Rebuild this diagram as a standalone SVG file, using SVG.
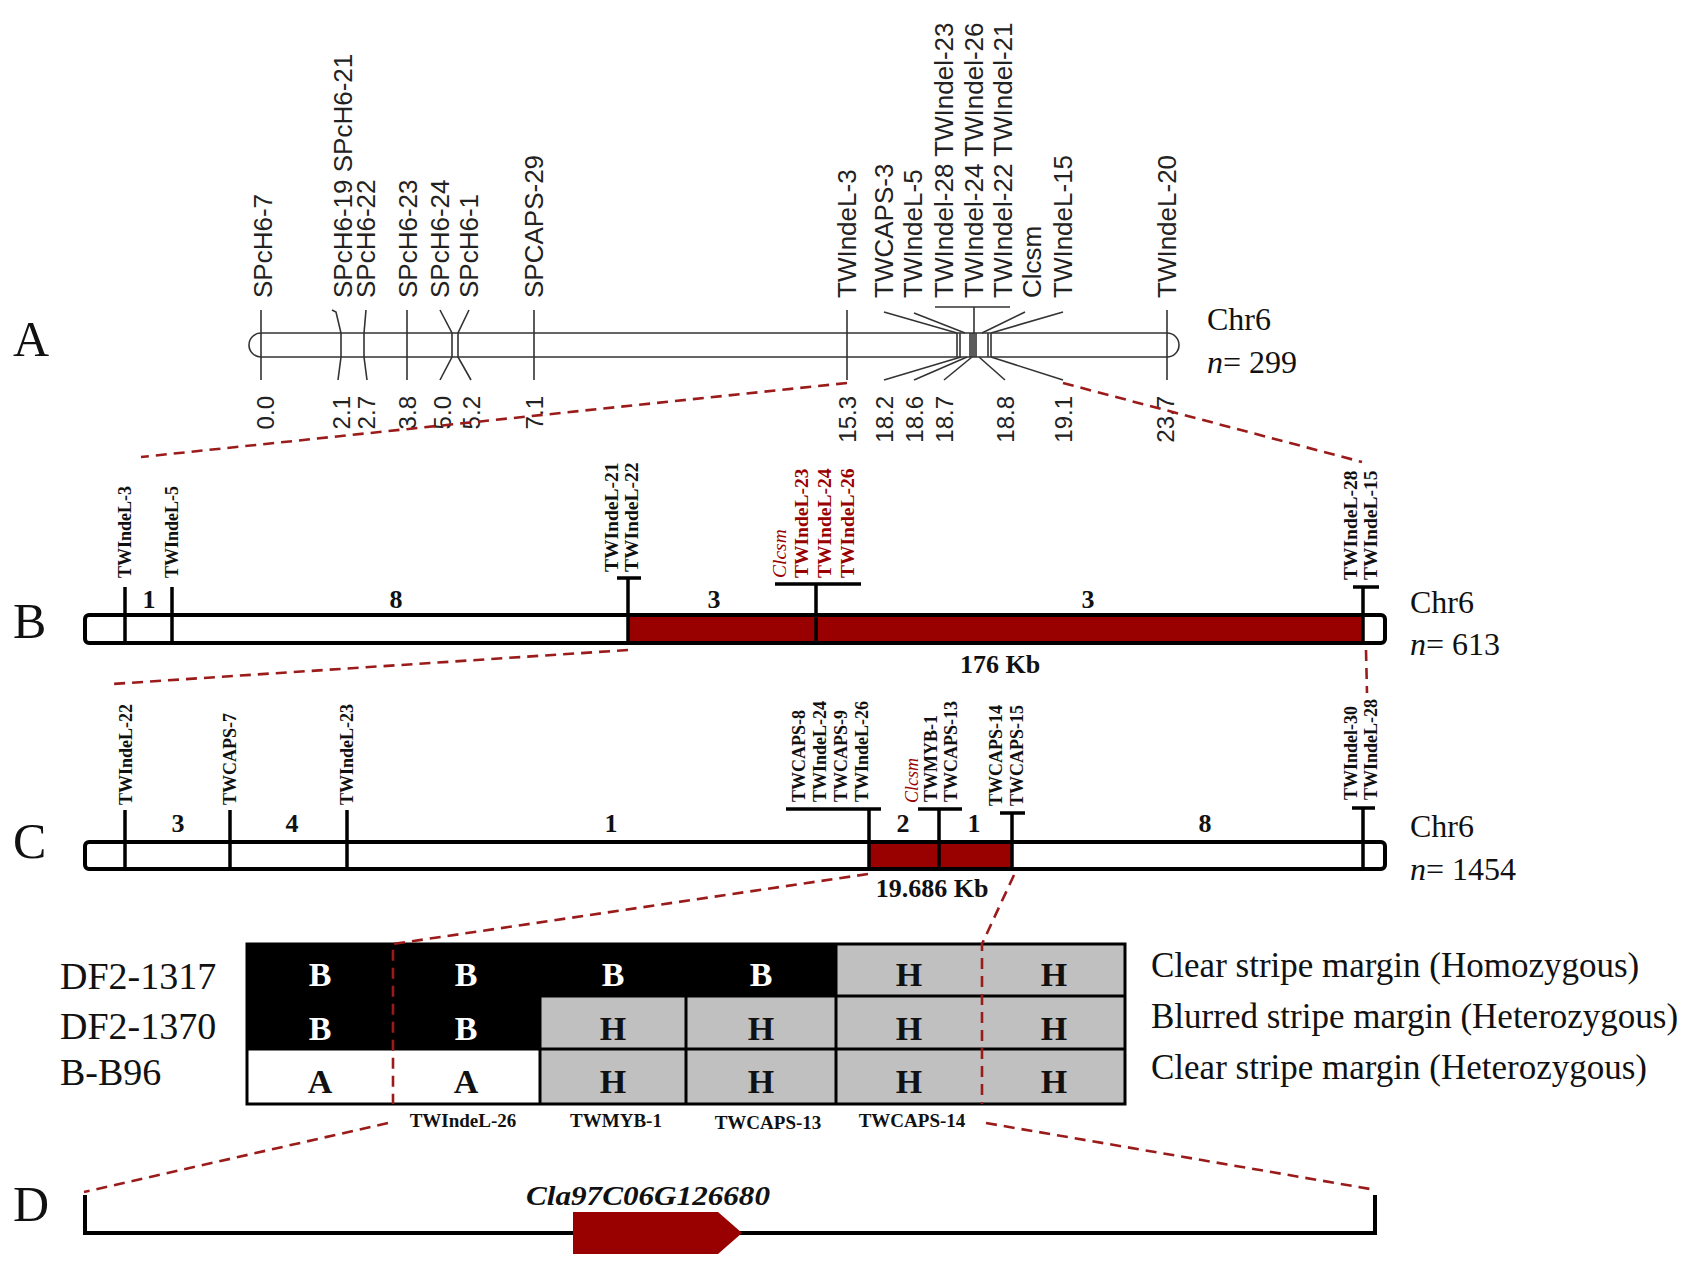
<svg xmlns="http://www.w3.org/2000/svg" width="1701" height="1269" viewBox="0 0 1701 1269">
<style>
.pl{font-family:"Liberation Serif","Times New Roman",serif;font-size:50px;fill:#111}
.ma{font-family:"Liberation Sans",Arial,sans-serif;font-size:26px;fill:#222}
.na{font-family:"Liberation Sans",Arial,sans-serif;font-size:24px;fill:#222;text-anchor:end}
.ch{font-family:"Liberation Serif","Times New Roman",serif;font-size:32px;fill:#111}
.mk{font-family:"Liberation Serif","Times New Roman",serif;font-size:18px;font-weight:bold;fill:#111}
.mb{font-size:19.5px}
.mr{fill:#990000}
.it{font-weight:normal;font-style:italic}
.num{font-family:"Liberation Serif","Times New Roman",serif;font-size:26px;font-weight:bold;fill:#111;text-anchor:middle}
.ta{stroke:#333;stroke-width:1.6;fill:none}
.tk{stroke:#000;stroke-width:3.5;fill:none}
.dash{stroke:#9b1b1b;stroke-width:2.6;stroke-dasharray:11 7;fill:none}
.cell{font-family:"Liberation Serif","Times New Roman",serif;font-size:34px;font-weight:bold;text-anchor:middle}
.row{font-family:"Liberation Serif","Times New Roman",serif;font-size:38px;fill:#111}
.desc{font-family:"Liberation Serif","Times New Roman",serif;font-size:35px;fill:#111}
.tl{font-family:"Liberation Serif","Times New Roman",serif;font-size:19px;font-weight:bold;fill:#111;text-anchor:middle}
</style>

<!-- Panel A -->
<g id="panel-a">
  <text class="pl" x="13" y="356">A</text>
  <path class="ta" d="M261,333 H1167 A12,12 0 0 1 1167,357 H261 A12,12 0 0 1 261,333 Z" fill="#fff"/>
  <g id="a-ticks" class="ta">
    <path d="M261,310 V380"/>
    <path d="M332,310 L336,312 L341,333 V357 L338,380"/>
    <path d="M366,310 L364,333 V357 L367,380"/>
    <path d="M407,310 V380"/>
    <path d="M440,310 L452,333 V357 L440,380"/>
    <path d="M469,310 L458,333 V357 L471,380"/>
    <path d="M534,310 V380"/>
    <path d="M847,310 V380"/>
    <path d="M884,312 L957,333"/>
    <path d="M914,313 L965,333"/>
    <path d="M935,307 H1010 M974,307 V333"/>
    <path d="M1025,312 L982,333"/>
    <path d="M1063,312 L991,333"/>
    <path d="M957,333 V357 M960,333 V357 M970,333 V357 M972,333 V357 M974,333 V357 M976,333 V357 M988,333 V357 M991,333 V357"/>
    <path d="M961,357 L884,380"/>
    <path d="M967,357 L914,380"/>
    <path d="M972,357 L944,380"/>
    <path d="M979,357 L1005,380"/>
    <path d="M991,357 L1063,380"/>
    <path d="M1167,310 V380"/>
  </g>
  <g id="a-labels">
    <text class="ma" transform="translate(272,298) rotate(-90)">SPcH6-7</text>
    <text class="ma" transform="translate(352,298) rotate(-90)">SPcH6-19 SPcH6-21</text>
    <text class="ma" transform="translate(375,298) rotate(-90)">SPcH6-22</text>
    <text class="ma" transform="translate(417,298) rotate(-90)">SPcH6-23</text>
    <text class="ma" transform="translate(449,298) rotate(-90)">SPcH6-24</text>
    <text class="ma" transform="translate(478,298) rotate(-90)">SPcH6-1</text>
    <text class="ma" transform="translate(543,298) rotate(-90)">SPCAPS-29</text>
    <text class="ma" transform="translate(856,298) rotate(-90)">TWIndeL-3</text>
    <text class="ma" transform="translate(893,298) rotate(-90)">TWCAPS-3</text>
    <text class="ma" transform="translate(922,298) rotate(-90)">TWIndeL-5</text>
    <text class="ma" transform="translate(953,298) rotate(-90)">TWIndel-28 TWIndel-23</text>
    <text class="ma" transform="translate(983,298) rotate(-90)">TWIndel-24 TWIndel-26</text>
    <text class="ma" transform="translate(1012,298) rotate(-90)">TWIndel-22 TWIndel-21</text>
    <text class="ma" transform="translate(1041,298) rotate(-90)">Clcsm</text>
    <text class="ma" transform="translate(1072,298) rotate(-90)">TWIndeL-15</text>
    <text class="ma" transform="translate(1176,298) rotate(-90)">TWIndeL-20</text>
  </g>
  <g id="a-positions">
    <text class="na" transform="translate(274,396) rotate(-90)">0.0</text>
    <text class="na" transform="translate(350,396) rotate(-90)">2.1</text>
    <text class="na" transform="translate(375,396) rotate(-90)">2.7</text>
    <text class="na" transform="translate(416,396) rotate(-90)">3.8</text>
    <text class="na" transform="translate(451,396) rotate(-90)">5.0</text>
    <text class="na" transform="translate(480,396) rotate(-90)">5.2</text>
    <text class="na" transform="translate(543,396) rotate(-90)">7.1</text>
    <text class="na" transform="translate(856,396) rotate(-90)">15.3</text>
    <text class="na" transform="translate(893,396) rotate(-90)">18.2</text>
    <text class="na" transform="translate(923,396) rotate(-90)">18.6</text>
    <text class="na" transform="translate(953,396) rotate(-90)">18.7</text>
    <text class="na" transform="translate(1014,396) rotate(-90)">18.8</text>
    <text class="na" transform="translate(1072,396) rotate(-90)">19.1</text>
    <text class="na" transform="translate(1174,396) rotate(-90)">23.7</text>
  </g>
  <text class="ch" x="1207" y="330">Chr6</text>
  <text class="ch" x="1207" y="373"><tspan font-style="italic">n</tspan>= 299</text>
</g>

<!-- Panel B -->
<g id="panel-b">
  <text class="pl" x="13" y="638">B</text>
  <rect x="85" y="615" width="1300" height="28" rx="4" fill="#fff"/>
  <rect x="628" y="615" width="735" height="28" fill="#990000"/>
  <g class="tk">
    <path d="M125,587 V643"/>
    <path d="M172,587 V643"/>
    <path d="M617,578 H641 M628,578 V643"/>
    <path d="M775,584 H861 M816,584 V643"/>
    <path d="M1353,587 H1379 M1363,587 V643"/>
  </g>
  <rect x="85" y="615" width="1300" height="28" rx="4" fill="none" stroke="#000" stroke-width="4"/>
  <g id="b-labels">
    <text class="mk" transform="translate(131,578) rotate(-90)">TWIndeL-3</text>
    <text class="mk" transform="translate(178,578) rotate(-90)">TWIndeL-5</text>
    <text class="mk mb" transform="translate(618,572) rotate(-90)">TWIndeL-21</text>
    <text class="mk mb" transform="translate(638,572) rotate(-90)">TWIndeL-22</text>
    <text class="mk mb mr it" transform="translate(786,578) rotate(-90)">Clcsm</text>
    <text class="mk mb mr" transform="translate(808,578) rotate(-90)">TWIndeL-23</text>
    <text class="mk mb mr" transform="translate(831,578) rotate(-90)">TWIndeL-24</text>
    <text class="mk mb mr" transform="translate(854,578) rotate(-90)">TWIndeL-26</text>
    <text class="mk mb" transform="translate(1357,580) rotate(-90)">TWIndeL-28</text>
    <text class="mk mb" transform="translate(1377,580) rotate(-90)">TWIndeL-15</text>
  </g>
  <text class="num" x="149" y="608">1</text>
  <text class="num" x="396" y="608">8</text>
  <text class="num" x="714" y="608">3</text>
  <text class="num" x="1088" y="608">3</text>
  <text class="num" x="1000" y="673">176 Kb</text>
  <text class="ch" x="1410" y="613">Chr6</text>
  <text class="ch" x="1410" y="655"><tspan font-style="italic">n</tspan>= 613</text>
</g>

<!-- Panel C -->
<g id="panel-c">
  <text class="pl" x="13" y="858">C</text>
  <rect x="85" y="842" width="1300" height="27" rx="4" fill="#fff"/>
  <rect x="869" y="842" width="143" height="27" fill="#990000"/>
  <g class="tk">
    <path d="M125,810 V868"/>
    <path d="M230,810 V868"/>
    <path d="M347,810 V868"/>
    <path d="M786,809 H881 M869,809 V868"/>
    <path d="M918,809 H962 M939,809 V868"/>
    <path d="M1000,813 H1025 M1012,813 V868"/>
    <path d="M1352,808 H1375 M1363,808 V868"/>
  </g>
  <rect x="85" y="842" width="1300" height="27" rx="4" fill="none" stroke="#000" stroke-width="4"/>
  <g id="c-labels">
    <text class="mk" transform="translate(132,805) rotate(-90)">TWIndeL-22</text>
    <text class="mk" transform="translate(236,805) rotate(-90)">TWCAPS-7</text>
    <text class="mk" transform="translate(353,805) rotate(-90)">TWIndeL-23</text>
    <text class="mk" transform="translate(805,802) rotate(-90)">TWCAPS-8</text>
    <text class="mk" transform="translate(826,802) rotate(-90)">TWIndeL-24</text>
    <text class="mk" transform="translate(847,802) rotate(-90)">TWCAPS-9</text>
    <text class="mk" transform="translate(868,802) rotate(-90)">TWIndeL-26</text>
    <text class="mk mr it" transform="translate(918,803) rotate(-90)">Clcsm</text>
    <text class="mk" transform="translate(937,802) rotate(-90)">TWMYB-1</text>
    <text class="mk" transform="translate(957,802) rotate(-90)">TWCAPS-13</text>
    <text class="mk" transform="translate(1002,806) rotate(-90)">TWCAPS-14</text>
    <text class="mk" transform="translate(1023,806) rotate(-90)">TWCAPS-15</text>
    <text class="mk" transform="translate(1357,800) rotate(-90)">TWIndel-30</text>
    <text class="mk" transform="translate(1377,800) rotate(-90)">TWIndeL-28</text>
  </g>
  <text class="num" x="178" y="832">3</text>
  <text class="num" x="292" y="832">4</text>
  <text class="num" x="611" y="832">1</text>
  <text class="num" x="903" y="832">2</text>
  <text class="num" x="974" y="832">1</text>
  <text class="num" x="1205" y="832">8</text>
  <text class="num" x="932" y="897">19.686 Kb</text>
  <text class="ch" x="1410" y="837">Chr6</text>
  <text class="ch" x="1410" y="880"><tspan font-style="italic">n</tspan>= 1454</text>
</g>

<!-- Genotype table -->
<g id="genotype-table">
  <rect x="247" y="944" width="146" height="52" fill="#000"/>
  <rect x="393" y="944" width="147" height="52" fill="#000"/>
  <rect x="540" y="944" width="146" height="52" fill="#000"/>
  <rect x="686" y="944" width="150" height="52" fill="#000"/>
  <rect x="836" y="944" width="289" height="52" fill="#c0c0c0"/>
  <rect x="247" y="996" width="293" height="53" fill="#000"/>
  <rect x="540" y="996" width="585" height="53" fill="#c0c0c0"/>
  <rect x="247" y="1049" width="293" height="55" fill="#fff"/>
  <rect x="540" y="1049" width="585" height="55" fill="#c0c0c0"/>
  <path d="M247,996 H1125 M247,1049 H1125 M540,944 V1104 M686,944 V1104 M836,944 V1104" stroke="#000" stroke-width="3" fill="none"/>
  <rect x="247" y="944" width="878" height="160" fill="none" stroke="#000" stroke-width="3"/>
  <g class="cell" fill="#fff">
    <text x="320" y="986">B</text><text x="466" y="986">B</text><text x="613" y="986">B</text><text x="761" y="986">B</text>
    <text x="320" y="1040">B</text><text x="466" y="1040">B</text>
  </g>
  <g class="cell" fill="#111">
    <text x="909" y="986">H</text><text x="1054" y="986">H</text>
    <text x="613" y="1040">H</text><text x="761" y="1040">H</text><text x="909" y="1040">H</text><text x="1054" y="1040">H</text>
    <text x="320" y="1093">A</text><text x="466" y="1093">A</text>
    <text x="613" y="1093">H</text><text x="761" y="1093">H</text><text x="909" y="1093">H</text><text x="1054" y="1093">H</text>
  </g>
  <text class="row" x="60" y="989">DF2-1317</text>
  <text class="row" x="60" y="1039">DF2-1370</text>
  <text class="row" x="60" y="1085">B-B96</text>
  <text class="desc" x="1151" y="977">Clear stripe margin (Homozygous)</text>
  <text class="desc" x="1151" y="1028">Blurred stripe margin (Heterozygous)</text>
  <text class="desc" x="1151" y="1079">Clear stripe margin (Heterozygous)</text>
  <text class="tl" x="463" y="1127">TWIndeL-26</text>
  <text class="tl" x="616" y="1127">TWMYB-1</text>
  <text class="tl" x="768" y="1129">TWCAPS-13</text>
  <text class="tl" x="912" y="1127">TWCAPS-14</text>
</g>

<!-- Panel D -->
<g id="panel-d">
  <text class="pl" x="13" y="1221">D</text>
  <path d="M85,1195 V1233 H1375 V1195" stroke="#000" stroke-width="4" fill="none"/>
  <polygon points="573,1212 718,1212 742,1233 718,1254 573,1254" fill="#990000"/>
  <text x="648" y="1205" text-anchor="middle" font-family="Liberation Serif, Times New Roman, serif" font-size="28" font-weight="bold" font-style="italic" fill="#111" textLength="244" lengthAdjust="spacingAndGlyphs">Cla97C06G126680</text>
</g>

<!-- Connectors -->
<g id="connectors" class="dash">
  <path d="M847,383 L141,457"/>
  <path d="M1063,383 L1362,462"/>
  <path d="M628,650 L112,684"/>
  <path d="M1366,650 L1367,693"/>
  <path d="M868,874 L393,944 L393,1104"/>
  <path d="M1014,875 L982,944 L982,1104"/>
  <path d="M388,1123 L84,1192"/>
  <path d="M986,1123 L1376,1190"/>
</g>
</svg>
